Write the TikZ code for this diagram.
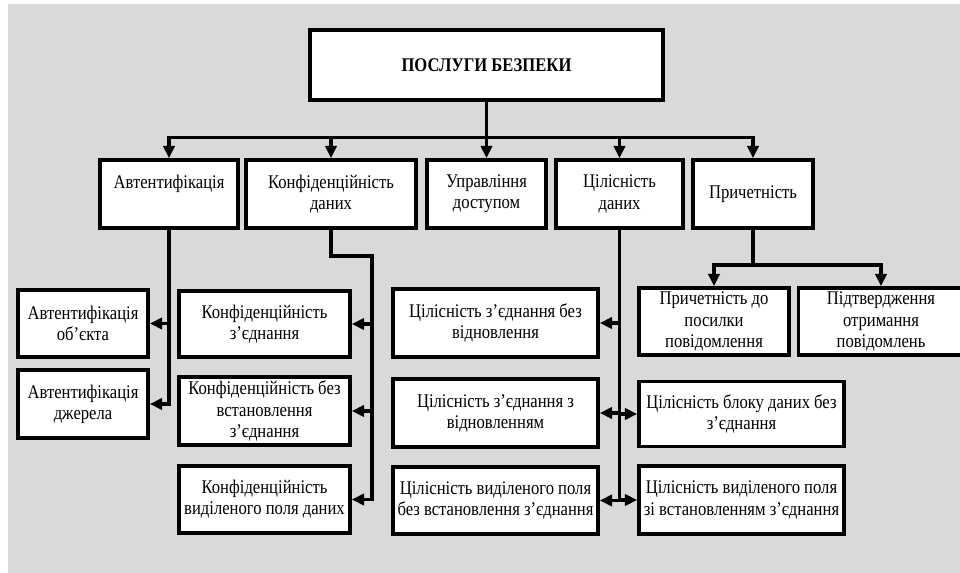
\documentclass[tikz,border=0pt]{standalone}
\usepackage{fontspec}
\setmainfont{Liberation Serif}[FakeStretch=0.86]
\usepackage{tikz}
\usepackage{xcolor}
\usetikzlibrary{arrows.meta}

\definecolor{bggray}{HTML}{D9D9D9}

\begin{document}
\begin{tikzpicture}[x=0.02cm, y=-0.02cm, >={Triangle[length=7pt,width=6.5pt]},
            every node/.style={draw, line width=2.2pt, fill=white, align=center, inner xsep=2pt, inner ysep=0.5pt,
                minimum height=1.36cm, font=\fontsize{11}{12}\selectfont},
            link/.style={line width=1.9pt}]
            \useasboundingbox (0,0) rectangle (960,573);
            \fill[bggray] (8,4) rectangle (960,573);

            \node (P) at (486.5,65) [minimum width=7.06cm, minimum height=1.4cm, line width=2.6pt] {\textbf{ПОСЛУГИ БЕЗПЕКИ}};

            \node (A) at (169,194) [minimum width=2.76cm] {Автентифікація\\\phantom{д}};
            \node (K) at (331,194) [minimum width=3.4cm] {Конфіденційність\\даних};
            \node (U) at (486.5,194) [minimum width=2.38cm] {Управління\\доступом};
            \node (C) at (619.5,194) [minimum width=2.54cm] {Цілісність\\даних};
            \node (R) at (753,194) [minimum width=2.4cm] {Причетність};

            \node (A1) at (83,323.5) [minimum width=2.6cm, minimum height=1.34cm] {Автентифікація\\об'єкта};
            \node (A2) at (83,404) [minimum width=2.6cm] {Автентифікація\\джерела};

            \node (K1) at (264.5,324) [minimum width=3.42cm, minimum height=1.32cm] {Конфіденційність\\з'єднання};
            \node (K2) at (264.5,411) [minimum width=3.42cm] {Конфіденційність без\\встановлення\\з'єднання};
            \node (K3) at (264.5,499.5) [minimum width=3.42cm, minimum height=1.34cm] {Конфіденційність\\виділеного поля даних};

            \node (C1) at (495.5,323) [minimum width=4.1cm] {Цілісність з'єднання без\\відновлення};
            \node (C2) at (495.5,413) [minimum width=4.1cm] {Цілісність з'єднання з\\відновленням};
            \node (C3) at (495.5,500.5) [minimum width=4.1cm, minimum height=1.34cm] {Цілісність виділеного поля\\без встановлення з'єднання};
            \node (C4) at (741.5,414) [minimum width=4.1cm, minimum height=1.3cm] {Цілісність блоку даних без\\з'єднання};
            \node (C5) at (741.5,500) [minimum width=4.1cm] {Цілісність виділеного поля\\зі встановленням з'єднання};

            \node (R1) at (714,321.5) [minimum width=3.0cm, minimum height=1.34cm] {Причетність до\\посилки\\повідомлення};
            \node (R2) at (881,321.5) [minimum width=3.3cm, minimum height=1.34cm] {Підтвердження\\отримання\\повідомлень};

            \coordinate (k) at (372,256);

            \draw[link][->] (P.south) -- (U.north);
            \foreach \n in {A,K,C,R}
                \draw[link][->] (P.south) -- ++(0,35) -| (\n.north);

            \draw[link][->] (A.south) |- (A1.east);
            \draw[link][->] (A.south) |- (A2.east);

            \foreach \n in {K1,K2,K3}
                \draw[link][->] (K.south) |- (k) |- (\n.east);

            \foreach \n in {C1,C2,C3}
                \draw[link][->] (C.south) |- (\n.east);
            \foreach \n in {C4,C5}
                \draw[link][->] (C.south) |- (\n.west);

            \foreach \n in {R1,R2}
                \draw[link][->] (R.south) -- ++(0,35) -| (\n.north);
        \end{tikzpicture}
\end{document}
